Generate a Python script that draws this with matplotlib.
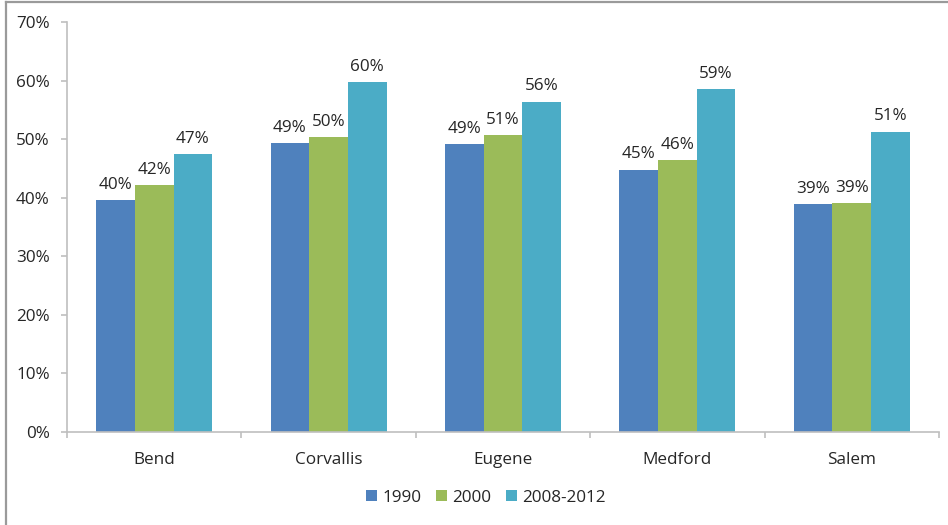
import matplotlib
matplotlib.use("Agg")
import matplotlib.pyplot as plt
import numpy as np
from matplotlib.lines import Line2D
from matplotlib.patches import Patch

cities = ["Bend", "Corvallis", "Eugene", "Medford", "Salem"]
series_names = ["1990", "2000", "2008-2012"]
share_1990 = [39.6, 49.3, 49.2, 44.8, 38.9]
share_2000 = [42.1, 50.4, 50.7, 46.4, 39.1]
share_2008_2012 = [47.4, 59.8, 56.4, 58.6, 51.3]
y_ticks = [0, 10, 20, 30, 40, 50, 60, 70]

colors = ["#4F81BD", "#9BBB59", "#4BACC6"]
text_color = "#262626"
axis_gray = "#BFBFBF"

plt.rcParams["font.family"] = ["Open Sans", "DejaVu Sans"]
FS = 12.3

fig = plt.figure(figsize=(9.48, 5.25), dpi=100)
ax = fig.add_axes([67 / 948, 93.5 / 525, 872 / 948, 409.1 / 525])

x = np.arange(len(cities))
width = 0.222
all_series = [share_1990, share_2000, share_2008_2012]
for i, (vals, name, col) in enumerate(zip(all_series, series_names, colors)):
    pos = x + (i - 1) * width
    bars = ax.bar(pos, vals, width=width, color=col, label=name, zorder=2)
    for rect, v in zip(bars, vals):
        ax.annotate(f"{v:.0f}%", (rect.get_x() + rect.get_width() / 2, v),
                    xytext=(0, 8.2), textcoords="offset points",
                    ha="center", va="baseline", fontsize=FS, color=text_color)

ax.set_xlim(-0.5, len(cities) - 0.5)
ax.set_ylim(0, 70)
ax.set_yticks(y_ticks)
ax.set_yticklabels([f"{t}%" for t in y_ticks])

# boundary ticks between categories, labels centred under each group
ax.set_xticks(np.arange(-0.5, len(cities), 1.0))
ax.set_xticklabels([])
ax.set_xticks(x, minor=True)
ax.set_xticklabels(cities, minor=True)
ax.tick_params(axis="x", which="major", length=4.5, width=1.2, color=axis_gray, direction="out")
ax.tick_params(axis="x", which="minor", length=0, pad=14.5, labelsize=FS, labelcolor=text_color)
ax.tick_params(axis="y", length=4.5, width=1.2, color=axis_gray, pad=8,
               labelsize=FS, labelcolor=text_color)

for side in ["top", "right"]:
    ax.spines[side].set_visible(False)
for side in ["left", "bottom"]:
    ax.spines[side].set_color(axis_gray)
    ax.spines[side].set_linewidth(1.2)

handles = [Patch(facecolor=c, edgecolor="none") for c in colors]
fig.legend(handles, series_names, loc="center", bbox_to_anchor=(486 / 948, 27.5 / 525),
           ncol=3, frameon=False, fontsize=FS, handlelength=0.62, handleheight=0.62,
           handletextpad=0.3, columnspacing=0.9, labelcolor=text_color)

# outer frame: top and left edges
fig.add_artist(Line2D([5.5 / 948, 5.5 / 948], [0, 1 - 1.5 / 525], transform=fig.transFigure,
                      color="#9A9A9A", linewidth=1.6))
fig.add_artist(Line2D([5.5 / 948, 1], [1 - 1.5 / 525, 1 - 1.5 / 525], transform=fig.transFigure,
                      color="#9A9A9A", linewidth=1.6))

fig.savefig("out.png", dpi=100)
